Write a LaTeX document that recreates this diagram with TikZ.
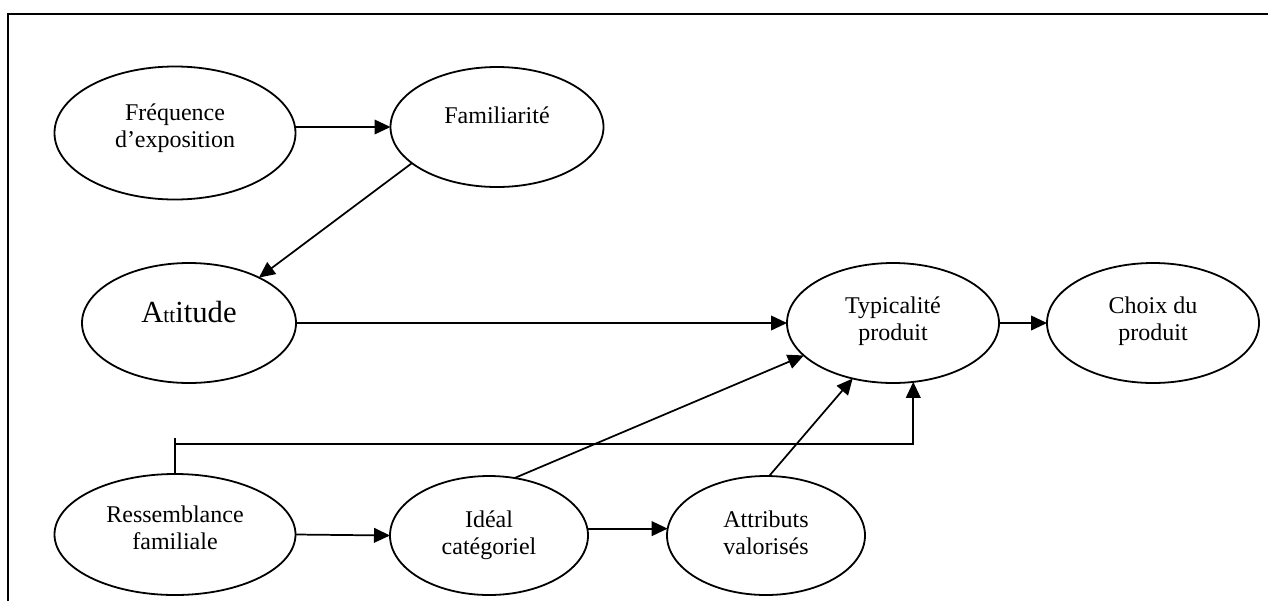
\documentclass[tikz,border=0pt]{standalone}
\usepackage{fontspec}
\setmainfont{Liberation Serif}
\usetikzlibrary{shapes.geometric,arrows.meta}
\begin{document}
\begin{tikzpicture}[x=0.75pt,y=-0.75pt,
  ell/.style={draw, ellipse, line width=1.35pt, inner sep=0pt, outer sep=0pt, align=center,
              font=\fontsize{18pt}{20.25pt}\selectfont, text height=30pt},
  ell1/.style={ell, text height=14pt},
  arr/.style={-{Triangle[length=12pt,width=11pt]}, line width=1.3pt},
  ln/.style={line width=1.3pt},
  frame/.style={line width=1.6pt}]
\useasboundingbox (0,0) rectangle (1268,601);
\draw[frame] (8,601) -- (8,14) -- (1268,14);

\node[ell, minimum width=180.75pt, minimum height=99.75pt, text depth=9pt] (fre) at (175,133) {Fréquence\\d’exposition};
\node[ell1, minimum width=159.75pt, minimum height=90pt, text depth=20pt] (fam) at (497,127) {Familiarité};
\node[ell1, minimum width=160.5pt, minimum height=90pt, text depth=15.5pt,
      font=\fontsize{23pt}{26pt}\selectfont] (att) at (189,323) {A{\fontsize{16pt}{18pt}\selectfont tt}itude};
\node[ell, minimum width=159pt, minimum height=90pt, text depth=4.5pt] (typ) at (893,323) {Typicalité\\produit};
\node[ell, minimum width=159pt, minimum height=90pt, text depth=4.5pt] (cho) at (1153,323) {Choix du\\produit};
\node[ell, minimum width=180.75pt, minimum height=90.75pt, text depth=8.25pt] (res) at (175,534.5) {Ressemblance\\familiale};
\node[ell, minimum width=148.5pt, minimum height=89.25pt, text depth=2.25pt] (ide) at (489,535.5) {Idéal\\catégoriel};
\node[ell, minimum width=148.5pt, minimum height=89.25pt, text depth=2.25pt] (atr) at (766,535.5) {Attributs\\valorisés};

\coordinate (tick) at (175,438);
\coordinate (corner) at (175,444);

\draw[arr] (fre.east |- fam.west) -- (fam.west);
\draw[arr] (fam.203) -- (att.33);
\draw[arr] (att.east) -- (typ.west);
\draw[arr] (typ.east) -- (cho.west);
\draw[arr] (ide.66) -- (typ.200);
\draw[arr] (atr.87) -- (typ.234);
\draw[ln] (res.north) -- (tick);
\draw[arr] (corner) -| (typ.289);
\draw[arr] (res.east) -- (ide.west);
\draw[arr] (ide.4) -- (atr.176);
\end{tikzpicture}
\end{document}
